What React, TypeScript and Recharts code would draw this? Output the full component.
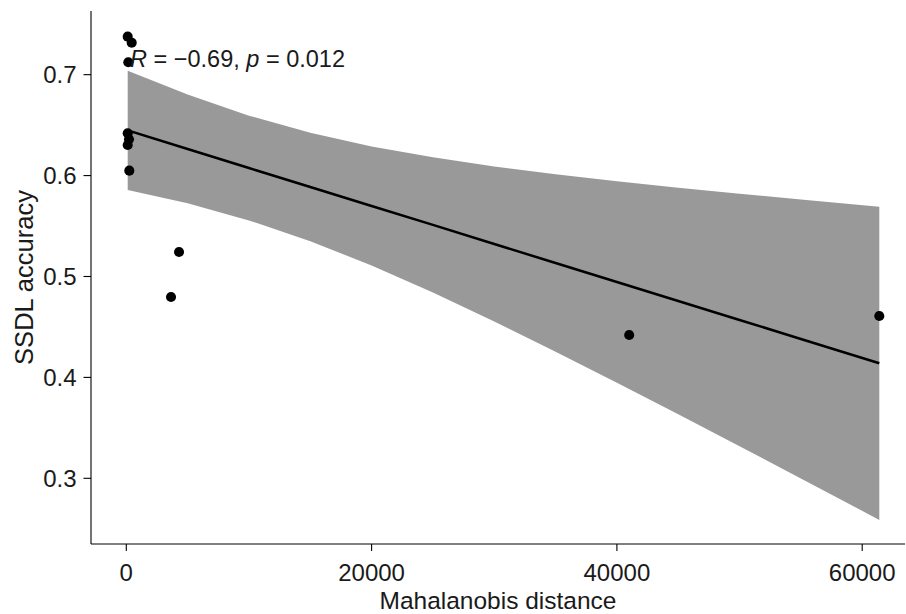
import { Area, ComposedChart, Label, Line, Scatter, XAxis, YAxis, ZAxis } from "recharts";

// observed points
const pointX = [114, 440, 163, 114, 220, 114, 245, 4299, 3646, 41003, 61395];
const pointY = [0.7377, 0.7317, 0.7123, 0.6419, 0.636, 0.6303, 0.6049, 0.5243, 0.4797, 0.442, 0.4608];

// regression line + 95% band
const fitX = [114, 5000, 10000, 15000, 20000, 25000, 30000, 35000, 40000, 45000, 50000, 55000, 61395];
const fitY = [0.6448, 0.6264, 0.6075, 0.5887, 0.5699, 0.5511, 0.5322, 0.5134, 0.4946, 0.4757, 0.4569, 0.4381, 0.414];
const bandHi = [0.704, 0.6803, 0.6594, 0.6424, 0.6289, 0.6181, 0.609, 0.6013, 0.5944, 0.5879, 0.582, 0.5763, 0.5692];
const bandLo = [0.5856, 0.5725, 0.5556, 0.535, 0.5109, 0.4841, 0.4554, 0.4255, 0.3948, 0.3635, 0.3318, 0.2999, 0.2588];

const xTicks = [0, 20000, 40000, 60000];
const yTicks = [0.3, 0.4, 0.5, 0.6, 0.7];

const FONT = "'Liberation Sans', Arial, sans-serif";
const INK = "#1a1a1a";

export default function App() {
  const fit = fitX.map((x, i) => ({ x, fit: fitY[i], band: [bandLo[i], bandHi[i]] }));
  const points = pointX.map((x, i) => ({ x, y: pointY[i] }));

  return (
    <div style={{ position: "relative", width: 906, height: 614, fontFamily: FONT, background: "#fff" }}>
      <style>{"body{margin:0}"}</style>
      <ComposedChart width={906} height={614} data={fit} margin={{ top: 11, right: 1, bottom: 0, left: 0 }}>
        <XAxis
          type="number"
          dataKey="x"
          domain={[-2878, 63490]}
          ticks={xTicks}
          interval={0}
          allowDataOverflow
          height={70}
          stroke="#000"
          strokeWidth={1.1}
          tickSize={7}
          tickMargin={13}
          tick={{ fontSize: 24, fill: INK, fontFamily: FONT }}
        >
          <Label
            content={(p: any) => {
              const vb = p.viewBox || { x: 91, y: 544, width: 814 };
              return (
                <text x={vb.x + vb.width / 2} y={vb.y + 65} textAnchor="middle" fontSize={24.5} fill={INK} fontFamily={FONT}>
                  Mahalanobis distance
                </text>
              );
            }}
          />
        </XAxis>
        <YAxis
          type="number"
          domain={[0.2349, 0.7631]}
          ticks={yTicks}
          interval={0}
          allowDataOverflow
          width={91}
          stroke="#000"
          strokeWidth={1.1}
          tickSize={7.5}
          tickMargin={7}
          tick={{ fontSize: 24, fill: INK, fontFamily: FONT }}
        >
          <Label
            content={(p: any) => {
              const vb = p.viewBox || { x: 0, y: 11, height: 533 };
              const cy = vb.y + vb.height / 2;
              return (
                <text
                  x={32.5}
                  y={cy}
                  transform={`rotate(-90 32.5 ${cy})`}
                  textAnchor="middle"
                  fontSize={25.5}
                  fill={INK}
                  fontFamily={FONT}
                >
                  SSDL accuracy
                </text>
              );
            }}
          />
        </YAxis>
        <ZAxis range={[80, 80]} />
        <Area
          type="linear"
          dataKey="band"
          fill="#999999"
          fillOpacity={1}
          stroke="none"
          isAnimationActive={false}
        />
        <Line type="linear" dataKey="fit" stroke="#000" strokeWidth={2.5} dot={false} isAnimationActive={false} />
        <Scatter data={points} dataKey="y" fill="#000" shape="circle" isAnimationActive={false} />
      </ComposedChart>
      <svg width={906} height={614} style={{ position: "absolute", left: 0, top: 0, pointerEvents: "none" }}>
        <text x={130} y={67} fontSize={23.5} fill={INK} fontFamily={FONT}>
          <tspan fontStyle="italic">R</tspan>
          {" = \u22120.69, "}
          <tspan fontStyle="italic">p</tspan>
          {" = 0.012"}
        </text>
      </svg>
    </div>
  );
}
